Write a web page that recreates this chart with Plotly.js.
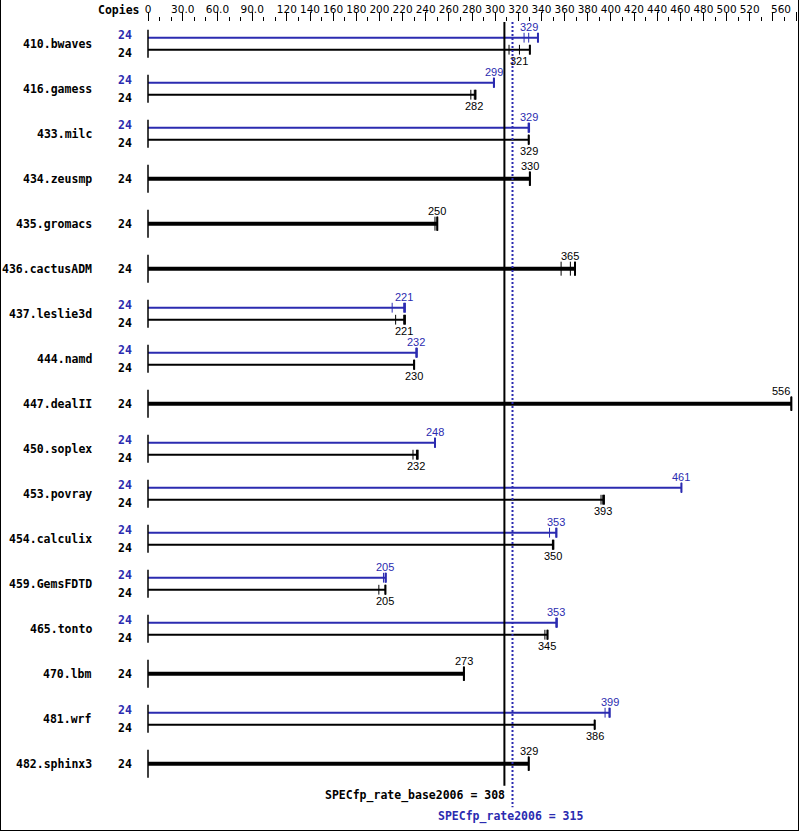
<!DOCTYPE html>
<html>
<head>
<meta charset="utf-8">
<script src="https://cdn.plot.ly/plotly-3.0.1.min.js"></script>
<style>
  html, body { margin: 0; padding: 0; background: #fff; }
  #graph { width: 799px; height: 831px; }
</style>
</head>
<body>
<div id="graph"></div>
<script>
const benchmarks = ['410.bwaves', '416.gamess', '433.milc', '434.zeusmp', '435.gromacs',
  '436.cactusADM', '437.leslie3d', '444.namd', '447.dealII', '450.soplex', '453.povray',
  '454.calculix', '459.GemsFDTD', '465.tonto', '470.lbm', '481.wrf', '482.sphinx3'];
const baseCopies = [24, 24, 24, 24, 24, 24, 24, 24, 24, 24, 24, 24, 24, 24, 24, 24, 24];
const peakCopies = [24, 24, 24, null, null, null, 24, 24, null, 24, 24, 24, 24, 24, null, 24, null];
const baseRatio = [321, 282, 329, 330, 250, 365, 221, 230, 556, 232, 393, 350, 205, 345, 273, 386, 329];
const peakRatio = [329, 299, 329, null, null, null, 221, 232, null, 248, 461, 353, 205, 353, null, 399, null];
// three runs per row
const baseRuns = [[312, 321, 330], [279, 282, 283], [329, 329, 329], [330, 330, 330],
  [248, 250, 250], [357, 365, 369], [214, 221, 222], [230, 230, 230], [556, 556, 556],
  [229, 232, 233], [391.5, 393, 394], [349.5, 350, 350.3], [199.5, 205, 205.2],
  [343, 345, 345.3], [273, 273, 273], [386, 386, 386], [329, 329, 329]];
const peakRuns = [[325, 329, 337], [298.5, 299, 299], [328.5, 329, 329.3], null, null, null,
  [211, 221, 222], [231.5, 232, 232.3], null, [248, 248, 248], [461, 461, 461],
  [347, 352.5, 353], [203.5, 205, 205.5], [352.5, 353, 353.3], null, [395, 398.5, 399], null];
const baseMean = 308;
const peakMean = 315;
const tickValues = [0, 30, 60, 90, 120, 140, 160, 180, 200, 220, 240, 260, 280, 300, 320,
  340, 360, 380, 400, 420, 440, 460, 480, 500, 520, 540, 560];
const tickLabels = ['0', '30.0', '60.0', '90.0', '120', '140', '160', '180', '200', '220',
  '240', '260', '280', '300', '320', '340', '360', '380', '400', '420', '440', '460', '480',
  '500', '520', '', ''];
const lastTickLabel = '560';

const BLUE = '#2b2bb0';
const W = 799, H = 831;
const L = 148, R = 3, T = 22, B = 2;
const plotW = W - L - R, plotH = H - T - B;
const xMax = 560;
const rowGap = 45, firstRow = 43.7;
const pxY = p => p / rowGap;
const yTop = (T - firstRow) / rowGap;
const yBottom = (H - B - firstRow) / rowGap;
const rowOff = pxY(6);
const paperX = p => (p - L) / plotW;
const paperY = p => (T + plotH - p) / plotH;

const mono = { family: 'DejaVu Sans Mono', size: 11.5, weight: 'bold' };
const valFont = { family: 'Liberation Sans', size: 11 };
const tickFont = { family: 'DejaVu Sans', size: 10.5, color: 'black' };

const traces = [];
const annotations = [];

function addRow(runs, y, color, width, size) {
  const max = Math.max(...runs);
  traces.push({ x: [0, max], y: [y, y], mode: 'lines', line: { color: color, width: width },
    hoverinfo: 'skip', showlegend: false });
  traces.push({ x: runs, y: runs.map(() => y), mode: 'markers', cliponaxis: false,
    marker: { symbol: 'line-ns', size: size, line: { color: color, width: 1 } },
    hoverinfo: 'skip', showlegend: false });
  traces.push({ x: [max], y: [y], mode: 'markers', cliponaxis: false,
    marker: { symbol: 'line-ns', size: size, line: { color: color, width: 2 } },
    hoverinfo: 'skip', showlegend: false });
}

function valueLabel(v, y, color, shift) {
  const px = L + v * plotW / xMax;
  const nearEdge = px + 10 > W - R;
  annotations.push({ x: v, y: y, xref: 'x', yref: 'y', text: String(v), showarrow: false,
    xanchor: nearEdge ? 'right' : 'center', xshift: nearEdge ? 1 : 0, yshift: shift,
    font: Object.assign({ color: color }, valFont) });
}

function copiesLabel(n, y, color, shift) {
  annotations.push({ x: paperX(124.7), y: y, xref: 'paper', yref: 'y', text: String(n),
    showarrow: false, xanchor: 'center', yshift: shift,
    font: Object.assign({ color: color }, mono) });
}

benchmarks.forEach((name, i) => {
  annotations.push({ x: paperX(94), y: i, xref: 'paper', yref: 'y', text: name,
    showarrow: false, xanchor: 'right', font: Object.assign({ color: 'black' }, mono) });
  if (peakRuns[i]) {
    addRow(peakRuns[i], i - rowOff, BLUE, 2, 7);
    addRow(baseRuns[i], i + rowOff, 'black', 2, 7);
    copiesLabel(peakCopies[i], i - rowOff, BLUE, 2.7);
    copiesLabel(baseCopies[i], i + rowOff, 'black', -3);
    valueLabel(peakRatio[i], i - rowOff, BLUE, 10.6);
    valueLabel(baseRatio[i], i + rowOff, 'black', -11.3);
  } else {
    addRow(baseRuns[i], i, 'black', 4, 10);
    copiesLabel(baseCopies[i], i, 'black', 0);
    valueLabel(baseRatio[i], i, 'black', 12.3);
  }
});

// start bar at zero for every benchmark
traces.push({ x: benchmarks.map(() => 0), y: benchmarks.map((b, i) => i), mode: 'markers',
  cliponaxis: false, marker: { symbol: 'line-ns', size: 20, line: { color: 'black', width: 1.5 } },
  hoverinfo: 'skip', showlegend: false });

const last = benchmarks.length - 1;
annotations.push({ x: paperX(142), y: 1, xref: 'paper', yref: 'paper', text: 'Copies',
  showarrow: false, xanchor: 'right', yanchor: 'middle', yshift: T - 10,
  font: Object.assign({ color: 'black' }, mono) });
// last tick label is pulled in against the right border, as in the reference
annotations.push({ x: xMax, y: 1, xref: 'x', yref: 'paper', text: lastTickLabel,
  showarrow: false, xanchor: 'right', yanchor: 'middle', xshift: -3, yshift: T - 9,
  font: tickFont });
annotations.push({ x: baseMean, y: last, xref: 'x', yref: 'y',
  text: 'SPECfp_rate_base2006 = ' + baseMean, showarrow: false, xanchor: 'right',
  xshift: 3, yshift: -31.3, font: Object.assign({ color: 'black' }, mono) });
annotations.push({ x: peakMean, y: last, xref: 'x', yref: 'y',
  text: 'SPECfp_rate2006 = ' + peakMean, showarrow: false, xanchor: 'center',
  xshift: -2, yshift: -53, font: Object.assign({ color: BLUE }, mono) });

const shapes = [
  { type: 'line', xref: 'x', yref: 'y', x0: baseMean, x1: baseMean, y0: yTop,
    y1: last + pxY(22), line: { color: 'black', width: 2 }, layer: 'above' },
  { type: 'line', xref: 'x', yref: 'y', x0: peakMean, x1: peakMean, y0: yTop,
    y1: last + pxY(43.5), line: { color: BLUE, width: 2, dash: '2px,2px' }, layer: 'above' },
  { type: 'line', xref: 'paper', yref: 'paper', x0: paperX(0.5), x1: paperX(0.5),
    y0: paperY(0), y1: paperY(830.5), line: { color: 'black', width: 1 } },
  { type: 'line', xref: 'paper', yref: 'paper', x0: paperX(798.5), x1: paperX(798.5),
    y0: paperY(0), y1: paperY(830.5), line: { color: 'black', width: 1 } },
  { type: 'line', xref: 'paper', yref: 'paper', x0: paperX(0), x1: paperX(799),
    y0: paperY(830.5), y1: paperY(830.5), line: { color: 'black', width: 1 } },
];

const layout = {
  width: W, height: H,
  margin: { l: L, r: R, t: T, b: B, pad: 0 },
  paper_bgcolor: 'white', plot_bgcolor: 'white',
  showlegend: false,
  xaxis: {
    side: 'top', range: [0, xMax], showgrid: false, zeroline: false, showline: false,
    tickmode: 'array', tickvals: tickValues, ticktext: tickLabels,
    ticks: 'outside', ticklen: 9, tickwidth: 1, tickcolor: 'black',
    ticklabelstandoff: -5,
    tickfont: tickFont,
    minor: { tick0: 0, dtick: 10, ticks: 'outside', ticklen: 4.5, tickwidth: 1, tickcolor: 'black' },
    fixedrange: true,
  },
  yaxis: { range: [yBottom, yTop], visible: false, fixedrange: true },
  annotations: annotations,
  shapes: shapes,
};

Plotly.newPlot('graph', traces, layout, { displayModeBar: false, staticPlot: true });
</script>
</body>
</html>
